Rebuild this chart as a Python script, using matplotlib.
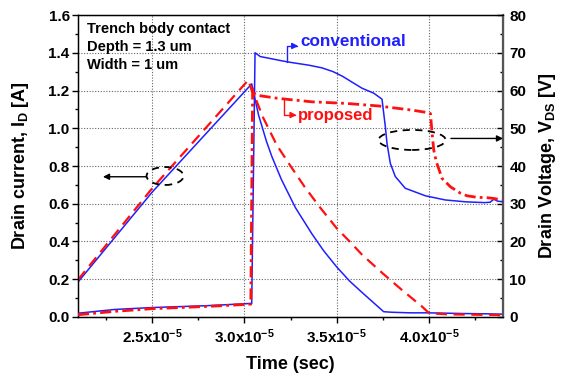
import matplotlib
matplotlib.use("Agg")
import matplotlib.pyplot as plt
from matplotlib.patches import Ellipse

plt.rcParams['font.family'] = ['Liberation Sans', 'DejaVu Sans']
plt.rcParams['font.weight'] = 'bold'
plt.rcParams['mathtext.fontset'] = 'custom'
plt.rcParams['mathtext.rm'] = 'Liberation Sans:bold'
plt.rcParams['mathtext.bf'] = 'Liberation Sans:bold'
plt.rcParams['mathtext.it'] = 'Liberation Sans:bold'
plt.rcParams['mathtext.default'] = 'rm'

T_SCALE = 1e-5  # time values below are in units of 1e-5 s

# drain current, conventional (blue solid)
t_id_conv = [2.10, 2.50, 3.04, 3.059, 3.077, 3.12, 3.149, 3.20, 3.276, 3.366, 3.43,
             3.50, 3.57, 3.637, 3.70, 3.754, 3.80, 3.90, 4.00, 4.10, 4.20, 4.30, 4.40]
id_conv = [0.185, 0.66, 1.235, 1.15, 1.07, 0.93, 0.85, 0.73, 0.58, 0.44, 0.35,
           0.265, 0.19, 0.13, 0.075, 0.028, 0.025, 0.022, 0.022, 0.020, 0.018, 0.017, 0.015]

# drain current, proposed (red dashed)
t_id_prop = [2.10, 2.50, 3.022, 3.04, 3.06, 3.10, 3.176, 3.25, 3.326, 3.41, 3.50,
             3.57, 3.637, 3.75, 3.853, 3.962, 4.00, 4.10, 4.25, 4.40]
id_prop = [0.197, 0.68, 1.256, 1.20, 1.16, 1.06, 0.91, 0.80, 0.69, 0.58, 0.47,
           0.40, 0.33, 0.23, 0.143, 0.055, 0.02, 0.014, 0.012, 0.01]

# drain voltage, conventional (blue solid)
t_vds_conv = [2.10, 2.30, 2.50, 2.80, 3.04, 3.058, 3.086, 3.231, 3.35, 3.42, 3.48, 3.53,
              3.58, 3.637, 3.70, 3.745, 3.763, 3.772, 3.79, 3.817, 3.871, 3.98, 4.088,
              4.20, 4.30, 4.33, 4.35, 4.37, 4.40]
vds_conv = [1.0, 2.0, 2.5, 3.0, 3.6, 70.0, 69.0, 67.6, 66.7, 66.0, 65.0, 63.8,
            62.3, 60.6, 59.3, 57.7, 50.4, 46.0, 40.7, 37.2, 34.1, 32.1, 31.0,
            30.5, 30.3, 30.4, 31.2, 30.7, 30.5]

# drain voltage, proposed (red dash-dot)
t_vds_prop = [2.10, 2.30, 2.50, 2.80, 3.035, 3.045, 3.059, 3.185, 3.366, 3.546, 3.727,
              3.908, 3.998, 4.007, 4.016, 4.025, 4.039, 4.07, 4.115, 4.169, 4.206, 4.26,
              4.314, 4.35, 4.395]
vds_prop = [0.6, 1.5, 2.2, 2.8, 3.4, 60.5, 58.8, 57.9, 57.0, 56.6, 55.9,
            54.8, 54.1, 53.9, 48.7, 44.2, 41.1, 36.7, 34.5, 32.8, 32.1, 31.7,
            31.6, 31.4, 31.0]

x_ticks = [2.5, 3.0, 3.5, 4.0]
x_tick_labels = ['2.5x10$^{-5}$', '3.0x10$^{-5}$', '3.5x10$^{-5}$', '4.0x10$^{-5}$']
id_ticks = [0.0, 0.2, 0.4, 0.6, 0.8, 1.0, 1.2, 1.4, 1.6]
vds_ticks = [0, 10, 20, 30, 40, 50, 60, 70, 80]

BLUE = '#1f1fff'
RED = '#ff1010'


def ts(vals):
    return [v * T_SCALE for v in vals]


fig = plt.figure(figsize=(5.66, 3.81), dpi=100)
ax = fig.add_axes([0.1378, 0.168, 0.751, 0.7926])
ax2 = ax.twinx()

# currents on left axis
ax.plot(ts(t_id_conv), id_conv, color=BLUE, lw=1.1, zorder=3)
ax.plot(ts(t_id_prop), id_prop, color=RED, lw=1.6, dashes=(5, 3), zorder=4)
# voltages on right axis
ax2.plot(ts(t_vds_conv), vds_conv, color=BLUE, lw=1.1, zorder=3)
ax2.plot(ts(t_vds_prop), vds_prop, color=RED, lw=2.0, dashes=(4, 1.5, 1, 1.5), zorder=4)

ax.set_xlim(2.1e-5, 4.4e-5)
ax.set_ylim(0, 1.6)
ax2.set_ylim(0, 80)

ax.set_xticks([v * T_SCALE for v in x_ticks])
ax.set_xticklabels(x_tick_labels)
ax.set_xticks([v * T_SCALE for v in [2.25, 2.75, 3.25, 3.75, 4.25]], minor=True)
ax.set_yticks(id_ticks)
ax.set_yticklabels([f'{v:.1f}' for v in id_ticks])
ax.set_yticks([0.1, 0.3, 0.5, 0.7, 0.9, 1.1, 1.3, 1.5], minor=True)
ax2.set_yticks(vds_ticks)
ax2.set_yticks(list(range(5, 80, 10)), minor=True)

ax.grid(True, which='major', color='#666666', linestyle=(0, (1, 1.5)), lw=0.8)
ax.set_axisbelow(True)

ax.tick_params(axis='both', which='major', direction='out', length=4, width=1,
               labelsize=11, pad=2)
ax.tick_params(axis='both', which='minor', direction='out', length=2.5, width=1)
ax.tick_params(axis='x', pad=3.5)
ax.tick_params(top=False, right=False, which='both')
ax2.tick_params(axis='y', which='major', direction='in', length=4, width=1,
                labelsize=11, pad=4.5)
ax2.tick_params(axis='y', which='minor', direction='in', length=2.5, width=1)

for s in ['left', 'bottom', 'top']:
    ax.spines[s].set_linewidth(1.0)
ax2.spines['right'].set_color('#555555')
ax2.spines['right'].set_linewidth(1.6)

ax.set_xlabel('Time (sec)', fontsize=13, fontweight='bold')
ax.set_ylabel('Drain current, I$_{D}$ [A]', fontsize=13, fontweight='bold')
ax2.set_ylabel('Drain Voltage, V$_{DS}$ [V]', fontsize=13, fontweight='bold')
ax.xaxis.set_label_coords(0.5, -0.129)
ax.yaxis.set_label_coords(-0.1106, 0.5)
ax2.yaxis.set_label_coords(1.08, 0.5)

# device text
ax.text(0.021, 0.955, 'Trench body contact', transform=ax.transAxes, fontsize=10.5,
        fontweight='bold', va='center')
ax.text(0.021, 0.895, 'Depth = 1.3 um', transform=ax.transAxes, fontsize=10.5,
        fontweight='bold', va='center')
ax.text(0.021, 0.835, 'Width = 1 um', transform=ax.transAxes, fontsize=10.5,
        fontweight='bold', va='center')

# curve labels
ax2.annotate('', xy=(3.292e-5, 71.8), xytext=(3.231e-5, 67.6),
             arrowprops=dict(arrowstyle='-|>', color=BLUE, lw=1.0, mutation_scale=9,
                             shrinkA=0, shrinkB=0,
                             connectionstyle='angle,angleA=90,angleB=0,rad=0'))
ax2.text(3.301e-5, 72.9, 'conventional', color=BLUE, fontsize=12.3, fontweight='bold',
         va='center')
ax2.annotate('', xy=(3.283e-5, 53.5), xytext=(3.212e-5, 57.5),
             arrowprops=dict(arrowstyle='-|>', color=RED, lw=1.0, mutation_scale=9,
                             shrinkA=0, shrinkB=0,
                             connectionstyle='angle,angleA=-90,angleB=0,rad=0'))
ax2.text(3.292e-5, 53.5, 'proposed', color=RED, fontsize=12, fontweight='bold',
         va='center')

# ellipses marking which axis each pair belongs to
ax.add_patch(Ellipse((2.571e-5, 0.747), 0.2e-5, 0.095, fill=False, ec='black',
                     lw=1.3, ls=(0, (4, 3)), zorder=5))
ax.annotate('', xy=(2.235e-5, 0.743), xytext=(2.468e-5, 0.743),
            arrowprops=dict(arrowstyle='-|>', color='black', lw=1.0, mutation_scale=9,
                            shrinkA=0, shrinkB=0))
ax2.add_patch(Ellipse((3.908e-5, 46.9), 0.363e-5, 5.3, fill=False, ec='black',
                      lw=1.3, ls=(0, (4, 3)), zorder=5))
ax2.annotate('', xy=(4.4e-5, 47.3), xytext=(4.118e-5, 47.3),
             arrowprops=dict(arrowstyle='-|>', color='black', lw=1.0, mutation_scale=9,
                             shrinkA=0, shrinkB=0))

fig.savefig('out.png', dpi=100)
